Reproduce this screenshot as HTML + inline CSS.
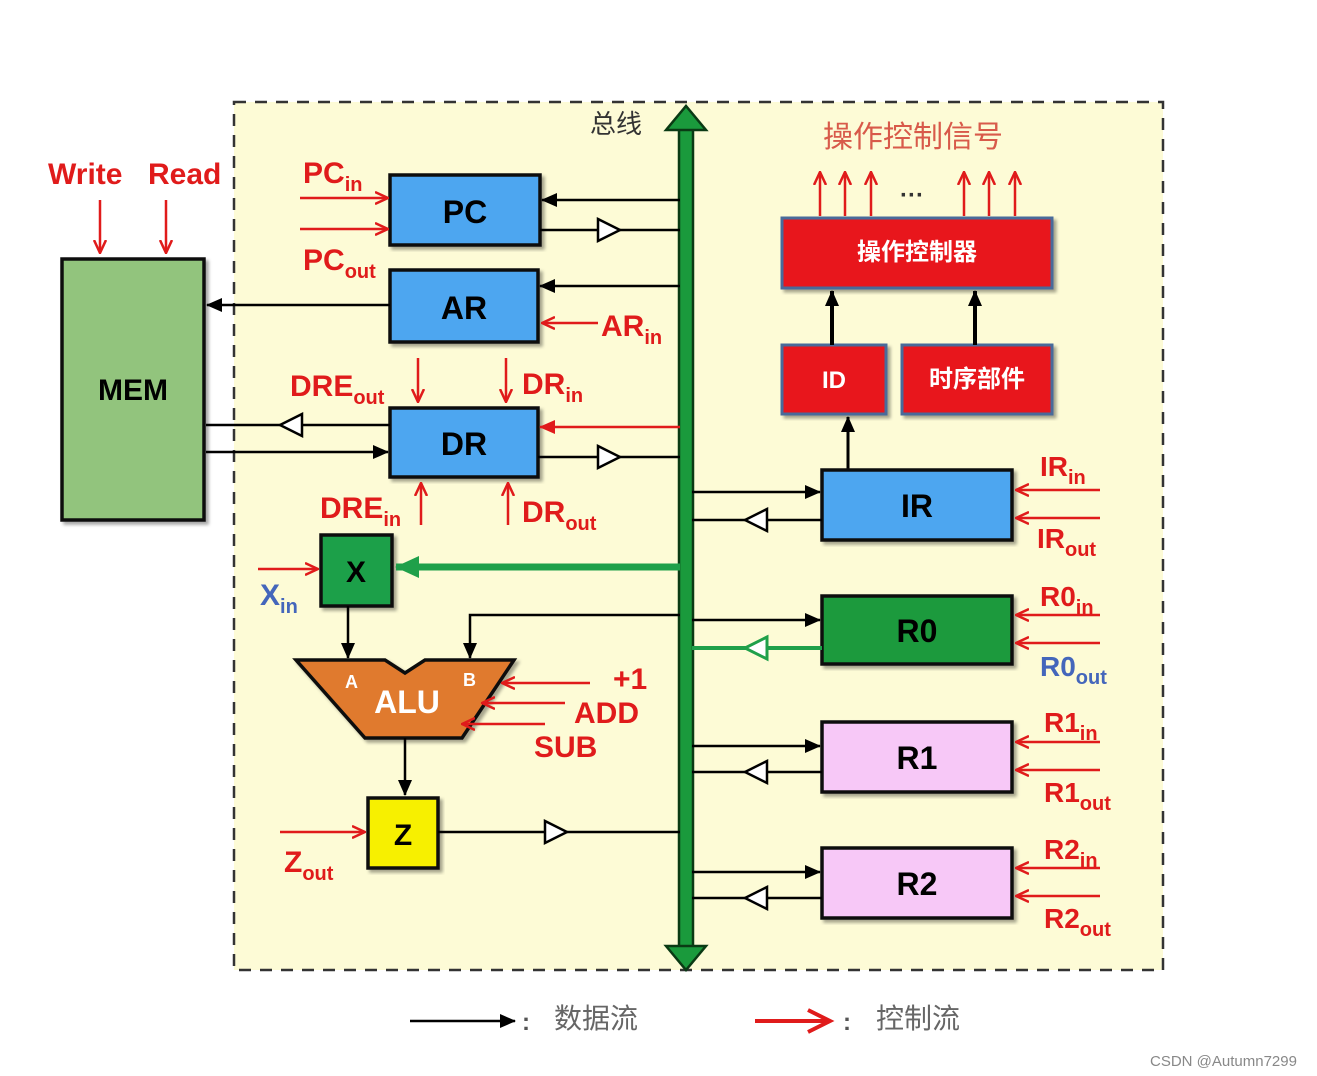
<!DOCTYPE html>
<html><head><meta charset="utf-8"><style>
html,body{margin:0;padding:0;background:#fff;}
svg{display:block;}
text{font-family:"Liberation Sans","Noto Sans CJK SC",sans-serif;font-weight:bold;}
.r{fill:#e01b1b;}
text.cn{font-family:"Liberation Sans","Noto Sans CJK SC",sans-serif;font-weight:normal;}
</style></head><body>
<svg width="1317" height="1076" viewBox="0 0 1317 1076" xmlns="http://www.w3.org/2000/svg">
<defs>
<marker id="ab" markerWidth="10" markerHeight="10" refX="9" refY="5" orient="auto" markerUnits="userSpaceOnUse"><path d="M0,0 L10,5 L0,10 Z" fill="#000"/></marker>
<marker id="abL" markerWidth="16" markerHeight="14" refX="15" refY="7" orient="auto" markerUnits="userSpaceOnUse"><path d="M0,0 L16,7 L0,14 Z" fill="#000"/></marker>
<marker id="ar" markerWidth="14" markerHeight="14" refX="13" refY="7" orient="auto" markerUnits="userSpaceOnUse"><path d="M0,1 L13,7 L0,13" fill="none" stroke="#e01b1b" stroke-width="2.5"/></marker>
<marker id="arf" markerWidth="16" markerHeight="14" refX="15" refY="7" orient="auto" markerUnits="userSpaceOnUse"><path d="M0,0 L16,7 L0,14 Z" fill="#e01b1b"/></marker>
<marker id="ag" markerWidth="24" markerHeight="22" refX="23" refY="11" orient="auto" markerUnits="userSpaceOnUse"><path d="M0,0 L24,11 L0,22 Z" fill="#1fa04a"/></marker>
<filter id="sh"><feDropShadow dx="3" dy="3" stdDeviation="1.5" flood-color="#000" flood-opacity="0.35"/></filter>
</defs>

<rect x="234" y="102" width="929" height="868" fill="#fdfbd6" stroke="#333" stroke-width="2.5" stroke-dasharray="12,9"/>

<!-- bus -->
<path d="M679,125 L693,125 L693,950 L679,950 Z" fill="#1a9a3c" stroke="#0a3a14" stroke-width="2.5"/>
<path d="M666,130 L686,106 L706,130 Z" fill="#1a9a3c" stroke="#0a3a14" stroke-width="2.5"/>
<path d="M666,946 L686,970 L706,946 Z" fill="#1a9a3c" stroke="#0a3a14" stroke-width="2.5"/>
<text x="590" y="133" font-size="26" fill="#333" class="cn">总线</text>

<!-- MEM -->
<rect x="62" y="259" width="142" height="261" fill="#92c47d" stroke="#111" stroke-width="3.5" filter="url(#sh)"/>
<text x="133" y="400" font-size="30" text-anchor="middle">MEM</text>
<text x="48" y="184" font-size="30" class="r">Write</text>
<text x="148" y="184" font-size="30" class="r">Read</text>
<line x1="100" y1="200" x2="100" y2="253" stroke="#e01b1b" stroke-width="2.5" marker-end="url(#ar)"/>
<line x1="166" y1="200" x2="166" y2="253" stroke="#e01b1b" stroke-width="2.5" marker-end="url(#ar)"/>

<!-- PC -->
<rect x="390" y="175" width="150" height="70" fill="#4da6f0" stroke="#111" stroke-width="3.5" filter="url(#sh)"/>
<text x="465" y="223" font-size="32" text-anchor="middle">PC</text>
<line x1="680" y1="200" x2="542" y2="200" stroke="#000" stroke-width="2.5" marker-end="url(#abL)"/>
<line x1="540" y1="230" x2="680" y2="230" stroke="#000" stroke-width="2.5"/>
<path d="M598,219 L620,230 L598,241 Z" fill="#fff" stroke="#000" stroke-width="2.5"/>
<line x1="300" y1="198" x2="388" y2="198" stroke="#e01b1b" stroke-width="2.5" marker-end="url(#ar)"/>
<line x1="300" y1="229" x2="388" y2="229" stroke="#e01b1b" stroke-width="2.5" marker-end="url(#ar)"/>
<text x="303" y="183" font-size="30" class="r">PC<tspan font-size="20" dy="8">in</tspan></text>
<text x="303" y="270" font-size="30" class="r">PC<tspan font-size="20" dy="8">out</tspan></text>

<!-- AR -->
<rect x="390" y="270" width="148" height="72" fill="#4da6f0" stroke="#111" stroke-width="3.5" filter="url(#sh)"/>
<text x="464" y="319" font-size="32" text-anchor="middle">AR</text>
<line x1="680" y1="286" x2="540" y2="286" stroke="#000" stroke-width="2.5" marker-end="url(#abL)"/>
<line x1="390" y1="305" x2="207" y2="305" stroke="#000" stroke-width="2.5" marker-end="url(#abL)"/>
<line x1="598" y1="323" x2="542" y2="323" stroke="#e01b1b" stroke-width="2.5" marker-end="url(#ar)"/>
<text x="601" y="336" font-size="30" class="r">AR<tspan font-size="20" dy="8">in</tspan></text>

<!-- DR -->
<rect x="390" y="408" width="148" height="69" fill="#4da6f0" stroke="#111" stroke-width="3.5" filter="url(#sh)"/>
<text x="464" y="455" font-size="32" text-anchor="middle">DR</text>
<line x1="680" y1="427" x2="540" y2="427" stroke="#e01b1b" stroke-width="2.5" marker-end="url(#arf)"/>
<line x1="538" y1="457" x2="680" y2="457" stroke="#000" stroke-width="2.5"/>
<path d="M598,446 L620,457 L598,468 Z" fill="#fff" stroke="#000" stroke-width="2.5"/>
<line x1="390" y1="425" x2="206" y2="425" stroke="#000" stroke-width="2.5"/>
<path d="M302,414 L280,425 L302,436 Z" fill="#fff" stroke="#000" stroke-width="2.5"/>
<line x1="206" y1="452" x2="388" y2="452" stroke="#000" stroke-width="2.5" marker-end="url(#abL)"/>
<line x1="418" y1="358" x2="418" y2="402" stroke="#e01b1b" stroke-width="2.5" marker-end="url(#ar)"/>
<line x1="506" y1="358" x2="506" y2="402" stroke="#e01b1b" stroke-width="2.5" marker-end="url(#ar)"/>
<line x1="421" y1="525" x2="421" y2="483" stroke="#e01b1b" stroke-width="2.5" marker-end="url(#ar)"/>
<line x1="508" y1="525" x2="508" y2="483" stroke="#e01b1b" stroke-width="2.5" marker-end="url(#ar)"/>
<text x="290" y="396" font-size="30" class="r">DRE<tspan font-size="20" dy="8">out</tspan></text>
<text x="522" y="394" font-size="30" class="r">DR<tspan font-size="20" dy="8">in</tspan></text>
<text x="320" y="518" font-size="30" class="r">DRE<tspan font-size="20" dy="8">in</tspan></text>
<text x="522" y="522" font-size="30" class="r">DR<tspan font-size="20" dy="8">out</tspan></text>

<!-- X -->
<rect x="321" y="535" width="71" height="71" fill="#1fa04a" stroke="#111" stroke-width="3.5" filter="url(#sh)"/>
<text x="356" y="582" font-size="30" text-anchor="middle">X</text>
<line x1="680" y1="567" x2="396" y2="567" stroke="#1fa04a" stroke-width="7" marker-end="url(#ag)"/>
<line x1="258" y1="569" x2="318" y2="569" stroke="#e01b1b" stroke-width="2.5" marker-end="url(#ar)"/>
<text x="260" y="605" font-size="30" fill="#4466bb">X<tspan font-size="20" dy="8">in</tspan></text>

<!-- ALU -->
<line x1="348" y1="606" x2="348" y2="658" stroke="#000" stroke-width="2.5" marker-end="url(#abL)"/>
<polyline points="680,615 470,615 470,658" fill="none" stroke="#000" stroke-width="2.5" marker-end="url(#abL)"/>
<path d="M296,660 L385,660 L405,673 L425,660 L514,660 L462,738 L365,738 Z" fill="#e07a2e" stroke="#111" stroke-width="3.5" filter="url(#sh)"/>
<text x="345" y="688" font-size="18" fill="#fff">A</text>
<text x="463" y="686" font-size="18" fill="#fff">B</text>
<text x="407" y="713" font-size="32" fill="#fff" text-anchor="middle">ALU</text>
<line x1="590" y1="683" x2="502" y2="683" stroke="#e01b1b" stroke-width="2.5" marker-end="url(#ar)"/>
<line x1="565" y1="703" x2="482" y2="703" stroke="#e01b1b" stroke-width="2.5" marker-end="url(#ar)"/>
<line x1="545" y1="724" x2="462" y2="724" stroke="#e01b1b" stroke-width="2.5" marker-end="url(#ar)"/>
<text x="613" y="689" font-size="30" class="r">+1</text>
<text x="574" y="723" font-size="30" class="r">ADD</text>
<text x="534" y="757" font-size="30" class="r">SUB</text>
<line x1="405" y1="738" x2="405" y2="795" stroke="#000" stroke-width="2.5" marker-end="url(#abL)"/>

<!-- Z -->
<rect x="368" y="798" width="70" height="70" fill="#f7f000" stroke="#111" stroke-width="3.5" filter="url(#sh)"/>
<text x="403" y="845" font-size="30" text-anchor="middle">Z</text>
<line x1="438" y1="832" x2="680" y2="832" stroke="#000" stroke-width="2.5"/>
<path d="M545,821 L567,832 L545,843 Z" fill="#fff" stroke="#000" stroke-width="2.5"/>
<line x1="280" y1="832" x2="365" y2="832" stroke="#e01b1b" stroke-width="2.5" marker-end="url(#ar)"/>
<text x="284" y="872" font-size="30" class="r">Z<tspan font-size="20" dy="8">out</tspan></text>

<!-- control -->
<text x="823" y="147" font-size="30" fill="#d85a4a" class="cn">操作控制信号</text>
<g stroke="#e01b1b" stroke-width="2.5">
<line x1="820" y1="216" x2="820" y2="172" marker-end="url(#ar)"/>
<line x1="845" y1="216" x2="845" y2="172" marker-end="url(#ar)"/>
<line x1="871" y1="216" x2="871" y2="172" marker-end="url(#ar)"/>
<line x1="964" y1="216" x2="964" y2="172" marker-end="url(#ar)"/>
<line x1="989" y1="216" x2="989" y2="172" marker-end="url(#ar)"/>
<line x1="1015" y1="216" x2="1015" y2="172" marker-end="url(#ar)"/>
</g>
<text x="900" y="203" font-size="24" fill="#333">···</text>
<rect x="782" y="218" width="270" height="70" fill="#e8141e" stroke="#4a6a9a" stroke-width="3" filter="url(#sh)"/>
<text x="917" y="260" font-size="24" fill="#fff" text-anchor="middle">操作控制器</text>
<rect x="782" y="345" width="104" height="69" fill="#e8141e" stroke="#4a6a9a" stroke-width="3" filter="url(#sh)"/>
<text x="834" y="388" font-size="24" fill="#fff" text-anchor="middle">ID</text>
<rect x="902" y="345" width="150" height="69" fill="#e8141e" stroke="#4a6a9a" stroke-width="3" filter="url(#sh)"/>
<text x="977" y="387" font-size="24" fill="#fff" text-anchor="middle">时序部件</text>
<line x1="832" y1="345" x2="832" y2="291" stroke="#000" stroke-width="4" marker-end="url(#abL)"/>
<line x1="975" y1="345" x2="975" y2="291" stroke="#000" stroke-width="4" marker-end="url(#abL)"/>
<line x1="848" y1="470" x2="848" y2="417" stroke="#000" stroke-width="3" marker-end="url(#abL)"/>

<!-- registers -->
<rect x="822" y="470" width="190" height="70" fill="#4da6f0" stroke="#111" stroke-width="3.5" filter="url(#sh)"/>
<text x="917" y="517" font-size="32" text-anchor="middle">IR</text>
<rect x="822" y="596" width="190" height="68" fill="#1a9a3c" stroke="#111" stroke-width="3.5" filter="url(#sh)"/>
<text x="917" y="642" font-size="32" text-anchor="middle">R0</text>
<rect x="822" y="722" width="190" height="70" fill="#f7c8f7" stroke="#111" stroke-width="3.5" filter="url(#sh)"/>
<text x="917" y="769" font-size="32" text-anchor="middle">R1</text>
<rect x="822" y="848" width="190" height="70" fill="#f7c8f7" stroke="#111" stroke-width="3.5" filter="url(#sh)"/>
<text x="917" y="895" font-size="32" text-anchor="middle">R2</text>

<g stroke="#000" stroke-width="2.5">
<line x1="692" y1="492" x2="820" y2="492" marker-end="url(#abL)"/>
<line x1="692" y1="520" x2="822" y2="520"/>
<line x1="692" y1="620" x2="820" y2="620" marker-end="url(#abL)"/>
<line x1="692" y1="746" x2="820" y2="746" marker-end="url(#abL)"/>
<line x1="692" y1="772" x2="822" y2="772"/>
<line x1="692" y1="872" x2="820" y2="872" marker-end="url(#abL)"/>
<line x1="692" y1="898" x2="822" y2="898"/>
</g>
<line x1="692" y1="648" x2="822" y2="648" stroke="#1fa04a" stroke-width="4"/>
<g fill="#fff" stroke="#000" stroke-width="2.5">
<path d="M767,509 L745,520 L767,531 Z"/>
<path d="M767,761 L745,772 L767,783 Z"/>
<path d="M767,887 L745,898 L767,909 Z"/>
</g>
<path d="M767,637 L745,648 L767,659 Z" fill="#fff" stroke="#1fa04a" stroke-width="3"/>

<g stroke="#e01b1b" stroke-width="2.5">
<line x1="1100" y1="490" x2="1016" y2="490" marker-end="url(#ar)"/>
<line x1="1100" y1="518" x2="1016" y2="518" marker-end="url(#ar)"/>
<line x1="1100" y1="615" x2="1016" y2="615" marker-end="url(#ar)"/>
<line x1="1100" y1="643" x2="1016" y2="643" marker-end="url(#ar)"/>
<line x1="1100" y1="742" x2="1016" y2="742" marker-end="url(#ar)"/>
<line x1="1100" y1="770" x2="1016" y2="770" marker-end="url(#ar)"/>
<line x1="1100" y1="868" x2="1016" y2="868" marker-end="url(#ar)"/>
<line x1="1100" y1="896" x2="1016" y2="896" marker-end="url(#ar)"/>
</g>
<text x="1040" y="476" font-size="28" class="r">IR<tspan font-size="20" dy="8">in</tspan></text>
<text x="1037" y="548" font-size="28" class="r">IR<tspan font-size="20" dy="8">out</tspan></text>
<text x="1040" y="606" font-size="28" class="r">R0<tspan font-size="20" dy="8">in</tspan></text>
<text x="1040" y="676" font-size="28" fill="#4466bb">R0<tspan font-size="20" dy="8">out</tspan></text>
<text x="1044" y="732" font-size="28" class="r">R1<tspan font-size="20" dy="8">in</tspan></text>
<text x="1044" y="802" font-size="28" class="r">R1<tspan font-size="20" dy="8">out</tspan></text>
<text x="1044" y="859" font-size="28" class="r">R2<tspan font-size="20" dy="8">in</tspan></text>
<text x="1044" y="928" font-size="28" class="r">R2<tspan font-size="20" dy="8">out</tspan></text>

<!-- legend -->
<line x1="410" y1="1021" x2="515" y2="1021" stroke="#000" stroke-width="2.5" marker-end="url(#abL)"/>
<text x="522" y="1030" font-size="24" fill="#555">:</text>
<text x="554" y="1028" font-size="28" fill="#666" class="cn">数据流</text>
<line x1="755" y1="1021" x2="830" y2="1021" stroke="#e01b1b" stroke-width="4"/>
<path d="M808,1010 L830,1021 L808,1032" fill="none" stroke="#e01b1b" stroke-width="4"/>
<text x="843" y="1030" font-size="24" fill="#555">:</text>
<text x="876" y="1028" font-size="28" fill="#666" class="cn">控制流</text>
<text x="1150" y="1066" font-size="15" fill="#888" class="cn">CSDN @Autumn7299</text>
</svg>
</body></html>
